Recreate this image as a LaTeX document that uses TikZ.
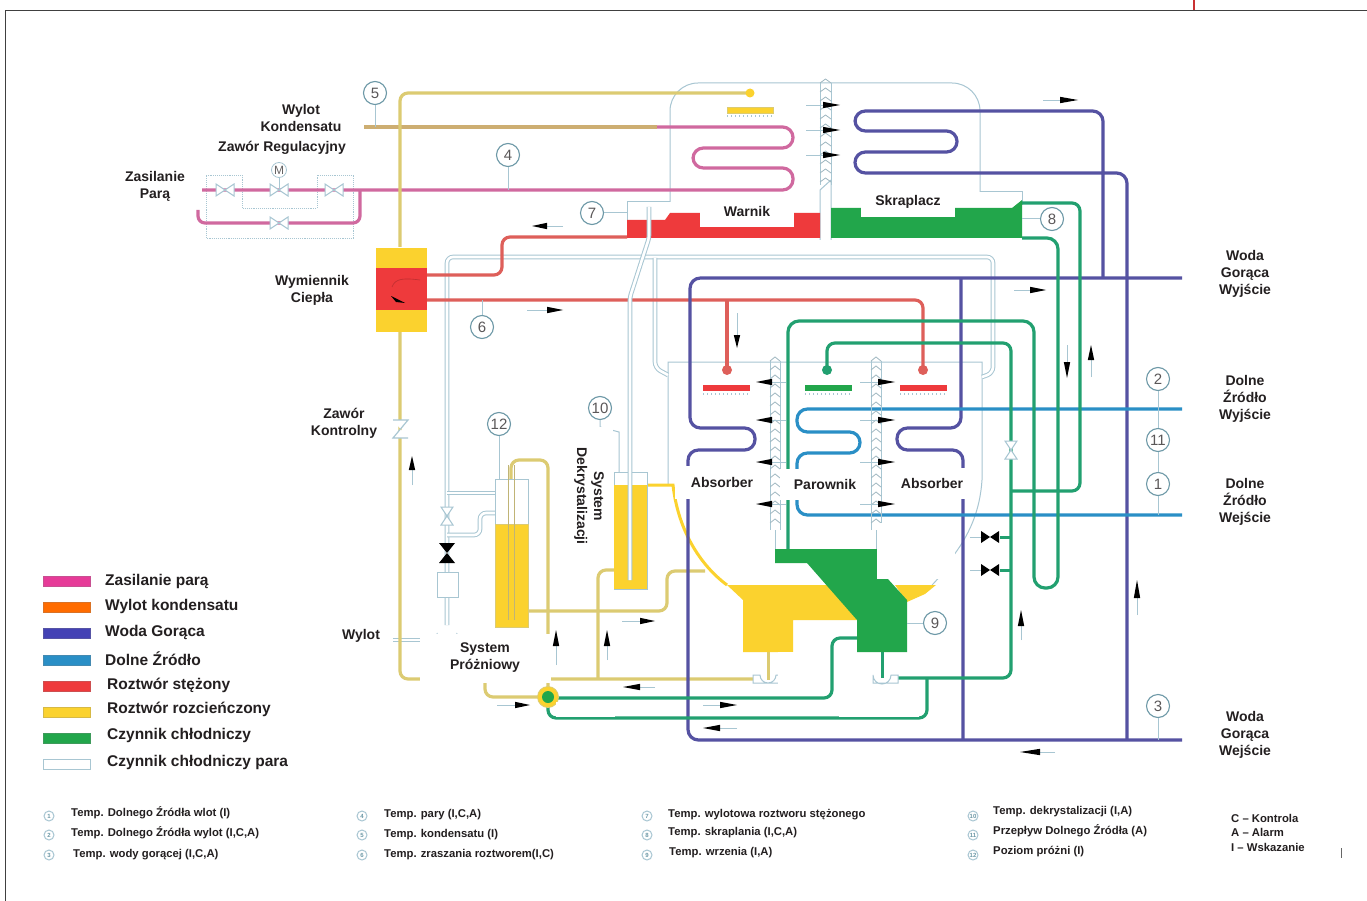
\documentclass[tikz,border=0pt]{standalone}
\usepackage{fontspec}
\setmainfont{Liberation Sans}
\definecolor{cpink}{HTML}{D0699F}
\definecolor{tpink}{HTML}{E63B98}
\definecolor{ctan}{HTML}{CDAE72}
\definecolor{colive}{HTML}{DCCB72}
\definecolor{cpurple}{HTML}{5552A2}
\definecolor{cblue}{HTML}{2A8FC6}
\definecolor{cred}{HTML}{DE5F5A}
\definecolor{cgreen}{HTML}{22A070}
\definecolor{tred}{HTML}{EE3A3C}
\definecolor{tyellow}{HTML}{FBD22E}
\definecolor{tgreen}{HTML}{22A64B}
\definecolor{cthin}{HTML}{A8C6D2}
\definecolor{cgauge}{HTML}{6C98A6}
\definecolor{ctxt}{HTML}{231F20}
\tikzset{
  pipe/.style={line width=3.2pt,rounded corners=#1,line join=round},
  pipe/.default=8pt,
  thinl/.style={draw=cthin,line width=1pt},
  vapor/.style={draw=cthin,line width=1pt,double=white,double distance=2.6pt,rounded corners=6pt},
  gauge/.style={circle,draw=cgauge,line width=1.1pt,minimum size=23pt,inner sep=0pt,fill=white,text=ctxt!75,font=\fontsize{15}{15}\selectfont},
  lab/.style={font=\bfseries\fontsize{14}{17}\selectfont,align=center,inner sep=0pt,text=ctxt},
  leg/.style={font=\bfseries\fontsize{15.5}{17}\selectfont,anchor=west,inner sep=0pt,text=ctxt},
  foot/.style={font=\bfseries\fontsize{11.3}{13}\selectfont,anchor=west,inner sep=0pt,text=ctxt},
  mini/.style={circle,draw=cthin,line width=1pt,minimum size=10pt,inner sep=0pt,text=cgauge,font=\bfseries\fontsize{6}{6}\selectfont},
  swatch/.style={draw=#1!70!gray,line width=1pt,minimum width=47pt,minimum height=10pt,inner sep=0pt,fill=#1},
  vh/.pic={\draw[thinl,fill=white] (-9,-6)--(9,6)--(9,-6)--(-9,6)--cycle;},
  vv/.pic={\draw[thinl,fill=white] (-6,-9)--(6,9)--(-6,9)--(6,-9)--cycle;},
  bh/.pic={\fill[black] (-9,-6)--(9,6)--(9,-6)--(-9,6)--cycle;},
  bv/.pic={\fill[black] (-8,-10)--(8,10)--(-8,10)--(8,-10)--cycle;},
  tailline/.style={draw=cthin,line width=.9pt},
}
\newcommand{\harr}[4]{\draw[tailline] (#1,#4)--(#2,#4);\fill[black] (#3,#4)--(#2,#4-3.2)--(#2,#4+3.2)--cycle;}
\newcommand{\varr}[4]{\draw[tailline] (#4,#1)--(#4,#2);\fill[black] (#4,#3)--(#4-3.2,#2)--(#4+3.2,#2)--cycle;}
\newcommand{\chevcol}[5]{% x left, x right, y top, y bottom, count
  \draw[thinl] (#1,#3)--(#1,#4) (#2,#3)--(#2,#4);
  \foreach \ii in {0,...,#5}{\draw[draw=cthin!80!gray,line width=.8pt] (#1,#3+9*\ii)--({(#1+#2)/2},#3+9*\ii-4)--(#2,#3+9*\ii);}
}
\begin{document}
\begin{tikzpicture}[x=1pt,y=-1pt]
\useasboundingbox (0,0) rectangle (1367,901);
\fill[white] (0,0) rectangle (1367,901);
% page frame
\draw[draw=black!75,line width=.8pt] (5,901)--(5,10)--(1367,10);
\draw[draw=tred!85!black,line width=1.6pt] (1194,0)--(1194,10);
\draw[draw=black!60,line width=.8pt] (1341,848)--(1341,858);

% thin shells
\draw[thinl,rounded corners=28pt] (670,202)--(670,83)--(980,83)--(980,192);
\draw[thinl] (627,220)--(627,202)--(670,202);
\draw[thinl] (980,192)--(1022,192)--(1022,205);
\draw[thinl] (668,485)--(668,362)--(982,362)--(982,480) .. controls (980,510) and (970,535) .. (950,560) .. controls (945,570) and (940,577) .. (932,585);
\draw[thinl] (820,240)--(820,190) (831,240)--(831,180) (820,190)--(831,180);
\draw[thinl] (775,530)--(775,549) (876,530)--(876,549);
\draw[thinl] (970,537)--(981,537) (970,570)--(981,570);

% vapor pipes
\draw[vapor] (447,625)--(447,257)--(993,257)--(993,373)--(982,377);
\draw[vapor] (655,258)--(655,368)--(668,375);
\draw[vapor] (447,493)--(496,493);
\draw[vapor] (447,535)--(480,535)--(480,513)--(496,513);
\draw[vapor] (393,640)--(420,640);
\draw[thinl,fill=white] (437,572) rectangle (458,597);
\draw[thinl] (437,633) arc (180:360:10 and -10);
\pic at (447,516) {vv};
\pic at (447,553) {bv};

% valve group outlines
\draw[draw=cthin,line width=.9pt,densely dotted] (206,238)--(206,175)--(242,175)--(242,208)--(317,208)--(317,175)--(353,175)--(353,238)--cycle;

% steam
\draw[cpink,pipe=10.4pt] (202,190)--(793,190)--(793,168)--(693,168)--(693,148)--(793,148)--(793,127)--(657,127);
\draw[cpink,pipe=7pt] (198,210)--(198,223)--(360,223)--(360,190);
% condensate
\draw[ctan,pipe] (364,127)--(657,127);
% dilute solution pipes
\draw[colive,pipe] (400,247)--(400,93)--(750,93);
\draw[colive,pipe] (400,332)--(400,679)--(753,679);
\draw[colive,pipe] (485,679)--(485,697)--(540,697);
\draw[colive,pipe] (511,620)--(511,460)--(548,460)--(548,690);
\draw[colive,pipe] (614,570)--(598,570)--(598,679);
\draw[colive,pipe] (528,611)--(667,611)--(667,571)--(705,571);
\draw[tyellow,line width=3pt] (647,485)--(673,485) .. controls (678,530) and (700,565) .. (727,585);
\draw[colive,line width=3pt] (768,652)--(768,680);
\fill[tyellow] (750,93) circle (4.5);
\fill[tyellow,draw=colive,line width=.6pt] (727,107) rectangle (773,113);
% solution red
\draw[cred,pipe] (427,275)--(502,275)--(502,237)--(627,237);
\draw[cred,pipe] (427,300)--(923,300)--(923,370);
\draw[cred,pipe] (727,300)--(727,370);
% hot water
\draw[cpurple,pipe=10.4pt] (1103,278)--(1103,111)--(855,111)--(855,131)--(957,131)--(957,152)--(855,152)--(855,173)--(1127,173)--(1127,740);
\draw[cpurple,pipe=10.4pt] (1182,278)--(690,278)--(690,428)--(755,428)--(755,450)--(688,450)--(688,740)--(1182,740);
\draw[cpurple,pipe=10.4pt] (961,278)--(961,428)--(897,428)--(897,450)--(963,450)--(963,740);
% low source
\draw[cblue,pipe=10.4pt] (1182,409)--(797,409)--(797,432)--(860,432)--(860,453)--(797,453)--(797,515)--(1182,515);
% refrigerant
\draw[cgreen,pipe] (1022,203)--(1080,203)--(1080,491)--(1011,491);
\draw[cgreen,pipe=11pt] (1022,238)--(1058,238)--(1058,588)--(1034,588)--(1034,321)--(788,321)--(788,549);
\draw[cgreen,pipe] (827,370)--(827,343)--(1011,343)--(1011,678)--(898,678);
\draw[cgreen,pipe] (927,678)--(927,718)--(548,718)--(548,697);
\draw[cgreen,pipe] (857,638)--(832,638)--(832,698)--(548,698);
\draw[cgreen,line width=3pt] (882,652)--(882,678);
\draw[cgreen,line width=3pt] (1000,537)--(1011,537) (1000,570)--(1011,570);

% valves on pipes
\pic at (225,190) {vh};
\pic at (279,190) {vh};
\pic at (334,190) {vh};
\pic at (279,223) {vh};
\pic at (1011,450) {vv};
\pic at (990,537) {bh};
\pic at (990,570) {bh};
\draw[draw=cthin,line width=1.2pt,fill=white] (393,420)--(408,420)--(393,438)--(408,438);
\draw[thinl] (279,178)--(279,190);
\node[circle,draw=cthin,line width=.8pt,inner sep=0pt,minimum size=15pt,text=ctxt!70,font=\fontsize{12}{12}\selectfont] (mot) at (279,170) {M};

% pumps
\draw[thinl,fill=white] (753,683)--(753,675)--(760,675) arc (180:360:8 and -8)--(780,675)--(780,683)--cycle;
\draw[thinl,fill=white] (873,683)--(873,675) arc (180:360:9 and -9)--(898,675)--(898,683)--cycle;
\draw[colive,line width=3pt] (768,660)--(768,680);
\draw[cgreen,line width=3pt] (882,660)--(882,678);

% tanks
\draw[thinl,fill=white] (495,479) rectangle (528,627);
\fill[tyellow] (495,524) rectangle (528,627);
\draw[colive,line width=1pt] (495,524) rectangle (528,627);
\draw[draw=colive!70!gray,line width=.8pt] (508,620)--(508,465) (514,620)--(514,465);
\draw[thinl,fill=white] (614,472) rectangle (647,589);
\fill[tyellow] (614,485) rectangle (647,589);
% generator
\fill[tred] (627,238)--(627,220)--(665,220)--(670,213)--(820,213)--(820,238)--cycle;
\fill[tgreen] (831,238)--(831,208)--(1012,208)--(1022,200)--(1022,238)--cycle;
% exchanger
\fill[tyellow] (376,248) rectangle (427,332);
\fill[tred] (376,268) rectangle (427,310);
\fill[black] (391,296)--(405,303)--(396,302)--cycle;
\draw[draw=tred!80!black,line width=.6pt] (392,287) .. controls (395,278) and (405,278) .. (420,280);
% lower tanks
\fill[tyellow] (727,585)--(837,585)--(857,620)--(793,620)--(793,652)--(743,652)--(743,600)--cycle;
\fill[tyellow] (895,585)--(936,585)--(925,594)--(907,602)--cycle;
\fill[tgreen] (775,549)--(877,549)--(877,567)--(907,600)--(907,652)--(857,652)--(857,620)--(807,563)--(775,563)--cycle;
% sprayers
\fill[tred] (703,385) rectangle (750,391);
\fill[tred] (900,385) rectangle (947,391);
\fill[tgreen] (805,385) rectangle (852,391);
\fill[cred] (727,370) circle (5);
\fill[cred] (923,370) circle (5);
\fill[cgreen] (827,370) circle (5);
\draw[draw=cthin,line width=2pt,dash pattern=on 1pt off 3pt] (703,394)--(750,394) (900,394)--(947,394) (805,394)--(852,394) (727,116)--(773,116);
% junction
\fill[tyellow] (548,697) circle (10.5);
\draw[colive,line width=.8pt] (548,697) circle (10.5);
\fill[tgreen] (548,697) circle (6);

% columns
\chevcol{820}{831}{83}{185}{11}
\chevcol{770}{780}{361}{530}{18}
\chevcol{871}{881}{361}{530}{18}

% vapor tube in tank 10
\draw[vapor,rounded corners=3pt] (630,580)--(630,297)--(649,238)--(649,207);

% white label masks
\fill[white] (877,523) rectangle (955,579);
\fill[white] (778,652) rectangle (828,685);
\fill[white] (839,687) rectangle (919,717);
\fill[white] (556,702) rectangle (615,717);

% gauges
\node[gauge] (g5) at (375,93) {5};
\node[gauge] (g4) at (508,155) {4};
\node[gauge] (g7) at (592,213) {7};
\node[gauge] (g6) at (482,327) {6};
\node[gauge] (g8) at (1052,219) {8};
\node[gauge] (g9) at (935,623) {9};
\node[gauge] (g12) at (499,424) {12};
\node[gauge] (g10) at (600,408) {10};
\node[gauge] (g2) at (1158,379) {2};
\node[gauge] (g11) at (1158,440) {11};
\node[gauge] (g1) at (1158,484) {1};
\node[gauge] (g3) at (1158,706) {3};
\coordinate (t5) at (375,127);\coordinate (t4) at (508,190);\coordinate (t7) at (627,213);
\coordinate (t6) at (482,300);\coordinate (t8) at (1022,219);\coordinate (t9) at (907,623);
\coordinate (t12) at (499,479);\coordinate (t1) at (1158,515);\coordinate (t3) at (1158,740);
\draw[thinl] (g5)--(t5) (g4)--(t4) (g7)--(t7) (g6)--(t6) (g8)--(t8) (g9)--(t9) (g12)--(t12) (g2)--(g11) (g11)--(g1) (g1)--(t1) (g3)--(t3);
\draw[thinl] (g10)--(600,427)--(619,432)--(619,472);

% flow arrows
\harr{563}{547}{532}{226}
\harr{527}{547}{563}{310}
\harr{806}{823}{840}{105}
\harr{806}{823}{840}{130}
\harr{806}{823}{840}{155}
\harr{1043}{1060}{1078}{100}
\harr{1014}{1030}{1046}{290}
\varr{313}{335}{348}{737}
\varr{345}{362}{378}{1067}
\varr{377}{360}{345}{1091}
\varr{485}{470}{456}{412}
\varr{665}{646}{630}{556}
\varr{660}{646}{630}{607}
\harr{622}{640}{655}{621}
\harr{655}{640}{623}{687}
\harr{497}{515}{530}{705}
\harr{703}{720}{737}{705}
\harr{737}{720}{703}{728}
\harr{1055}{1040}{1020}{752}
\varr{640}{626}{610}{1021}
\varr{615}{598}{580}{1137}
\harr{786}{772}{756}{382}
\harr{786}{772}{756}{420}
\harr{786}{772}{756}{462}
\harr{786}{772}{756}{504}
\harr{860}{878}{895}{382}
\harr{860}{878}{895}{420}
\harr{860}{878}{895}{462}
\harr{860}{878}{895}{504}

% labels
\node[lab] (wk) at (301,118) {Wylot\\Kondensatu};
\node[lab] (zr) at (282,148) {Zawór Regulacyjny};
\node[lab] (zp) at (155,186) {Zasilanie\\Parą};
\node[lab] (wc) at (312,290) {Wymiennik\\Ciepła};
\node[lab] (zk) at (344,423) {Zawór\\Kontrolny};
\node[lab] (wy) at (361,636) {Wylot};
\node[lab,fill=white,minimum width=94pt,minimum height=32pt] (warn) at (747,211) {Warnik};
\node[lab,fill=white,minimum width=94pt,minimum height=30pt] (skr) at (908,202) {Skraplacz};
\node[lab,fill=white,minimum width=95pt,minimum height=33pt] (ab1) at (722,482) {Absorber};
\node[lab,fill=white,minimum width=91pt,minimum height=31pt] (par) at (825,484) {Parownik};
\node[lab,fill=white,minimum width=90pt,minimum height=31pt] (ab2) at (932,483) {Absorber};
\node[lab,fill=white,minimum width=131pt,minimum height=49pt] (sp) at (485,658) {System\\Próżniowy};
\node[lab,fill=white,rotate=-90,minimum width=138pt,minimum height=48pt] (sd) at (589,496) {System\\Dekrystalizacji};
\node[lab] (r1) at (1245,274) {Woda\\Gorąca\\Wyjście};
\node[lab] (r2) at (1245,399) {Dolne\\Źródło\\Wyjście};
\node[lab] (r3) at (1245,502) {Dolne\\Źródło\\Wejście};
\node[lab] (r4) at (1245,735) {Woda\\Gorąca\\Wejście};

% legend
\node[swatch=tpink] (s1) at (67,581) {};
\node[swatch=orange!85!red] (s2) at (67,607) {};
\node[swatch=cpurple!80!blue] (s3) at (67,633) {};
\node[swatch=cblue] (s4) at (67,660) {};
\node[swatch=tred] (s5) at (67,686) {};
\node[swatch=tyellow] (s6) at (67,712) {};
\node[swatch=tgreen] (s7) at (67,738) {};
\node[swatch=white,draw=cthin] (s8) at (67,764) {};
\node[leg] (l1) at (105,581) {Zasilanie parą};
\node[leg] (l2) at (105,606) {Wylot kondensatu};
\node[leg] (l3) at (105,632) {Woda Gorąca};
\node[leg] (l4) at (105,659) {Dolne Źródło};
\node[leg] (l5) at (107,685) {Roztwór stężony};
\node[leg] (l6) at (107,709) {Roztwór rozcieńczony};
\node[leg] (l7) at (107,735) {Czynnik chłodniczy};
\node[leg] (l8) at (107,762) {Czynnik chłodniczy para};

% footer
\node[mini] (m1) at (49,816) {1};
\node[mini] (m2) at (49,835) {2};
\node[mini] (m3) at (49,855) {3};
\node[mini] (m4) at (362,816) {4};
\node[mini] (m5) at (362,835) {5};
\node[mini] (m6) at (362,855) {6};
\node[mini] (m7) at (647,816) {7};
\node[mini] (m8) at (647,835) {8};
\node[mini] (m9) at (647,855) {9};
\node[mini] (m10) at (973,816) {10};
\node[mini] (m11) at (973,835) {11};
\node[mini] (m12) at (973,855) {12};
\node[foot] (f1) at (71,813) {Temp. Dolnego Źródła wlot (I)};
\node[foot] (f2) at (71,833) {Temp. Dolnego Źródła wylot (I,C,A)};
\node[foot] (f3) at (73,855) {Temp. wody gorącej (I,C,A)};
\node[foot] (f4) at (384,815) {Temp. pary (I,C,A)};
\node[foot] (f5) at (384,835) {Temp. kondensatu (I)};
\node[foot] (f6) at (384,855) {Temp. zraszania roztworem(I,C)};
\node[foot] (f7) at (668,815) {Temp. wylotowa roztworu stężonego};
\node[foot] (f8) at (668,833) {Temp. skraplania (I,C,A)};
\node[foot] (f9) at (669,853) {Temp. wrzenia (I,A)};
\node[foot] (f10) at (993,812) {Temp. dekrystalizacji (I,A)};
\node[foot] (f11) at (993,831) {Przepływ Dolnego Źródła (A)};
\node[foot] (f12) at (993,852) {Poziom próżni (I)};
\node[foot] (k1) at (1231,818) {C – Kontrola};
\node[foot] (k2) at (1231,832) {A – Alarm};
\node[foot] (k3) at (1231,847) {I – Wskazanie};
\end{tikzpicture}
\end{document}
